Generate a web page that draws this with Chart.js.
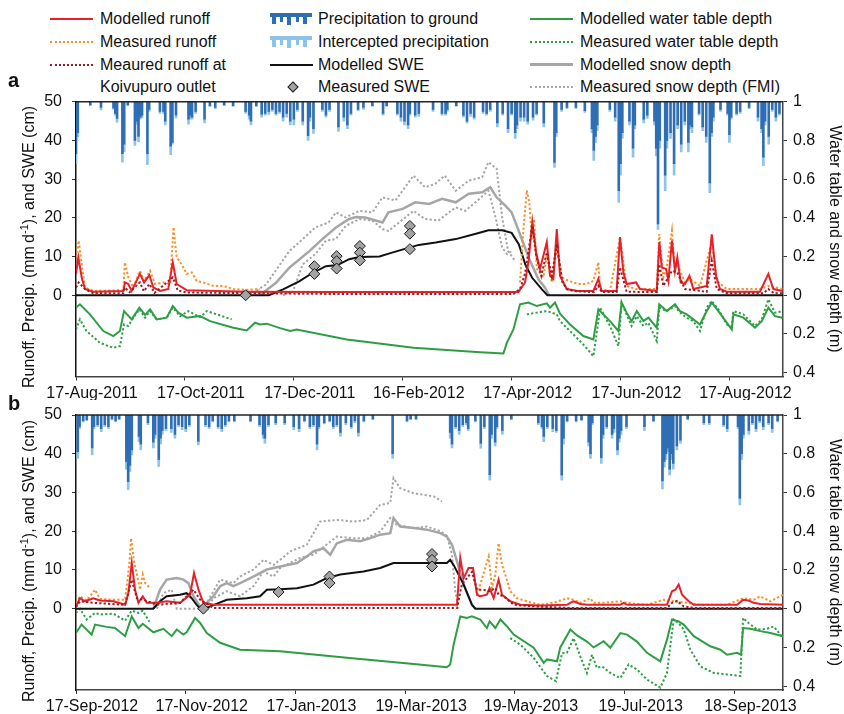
<!DOCTYPE html>
<html lang="en">
<head>
<meta charset="UTF-8">
<title>Runoff, precipitation, SWE, snow and water table</title>
<script src="https://cdn.jsdelivr.net/npm/chart.js"></script>
<style>
  body { margin: 0; background: #fff; font-family: "Liberation Sans", Arial, sans-serif; color: #111; }
  #wrap { position: relative; width: 844px; height: 714px; overflow: hidden; }
  canvas { position: absolute; left: 0; }
  .lg { position: absolute; font-size: 16px; line-height: 18px; white-space: nowrap; }
  .ln { position: absolute; height: 0; width: 43px; }
  .panel { position: absolute; font-weight: bold; font-size: 20px; line-height: 20px; }
  .ytitle { position: absolute; font-size: 16px; white-space: nowrap; transform: translate(-50%, -50%) rotate(-90deg); }
</style>
</head>
<body>
<div id="wrap">
  <!-- legend, col 1 -->
  <div class="ln" style="left:50px;top:18px;border-top:2px solid #e8202a"></div>
  <div class="lg" style="left:100px;top:10px">Modelled runoff</div>
  <div class="ln" style="left:50px;top:41px;border-top:2px dotted #f7902b"></div>
  <div class="lg" style="left:100px;top:33px">Measured runoff</div>
  <div class="ln" style="left:50px;top:64px;border-top:2px dotted #9e1b1f"></div>
  <div class="lg" style="left:100px;top:56px">Meaured runoff at</div>
  <div class="lg" style="left:100px;top:78px">Koivupuro outlet</div>
  <!-- legend, col 2 -->
  <svg style="position:absolute;left:270px;top:12px" width="42" height="14">
    <rect x="0" y="1" width="42" height="4" fill="#2f6eb5"/>
    <rect x="2" y="5" width="4" height="7" fill="#2f6eb5"/><rect x="10" y="5" width="3" height="5" fill="#2f6eb5"/>
    <rect x="17" y="5" width="4" height="8" fill="#2f6eb5"/><rect x="26" y="5" width="3" height="5" fill="#2f6eb5"/>
    <rect x="33" y="5" width="4" height="7" fill="#2f6eb5"/>
  </svg>
  <div class="lg" style="left:318px;top:10px">Precipitation to ground</div>
  <svg style="position:absolute;left:270px;top:35px" width="42" height="14">
    <rect x="0" y="1" width="42" height="4" fill="#8dc3ea"/>
    <rect x="2" y="5" width="4" height="7" fill="#8dc3ea"/><rect x="10" y="5" width="3" height="5" fill="#8dc3ea"/>
    <rect x="17" y="5" width="4" height="8" fill="#8dc3ea"/><rect x="26" y="5" width="3" height="5" fill="#8dc3ea"/>
    <rect x="33" y="5" width="4" height="7" fill="#8dc3ea"/>
  </svg>
  <div class="lg" style="left:318px;top:33px">Intercepted precipitation</div>
  <div class="ln" style="left:270px;top:64px;border-top:2px solid #111"></div>
  <div class="lg" style="left:318px;top:56px">Modelled SWE</div>
  <div style="position:absolute;left:289px;top:83px;width:6px;height:6px;background:#a3a3a3;border:1px solid #222;transform:rotate(45deg)"></div>
  <div class="lg" style="left:318px;top:78px">Measured SWE</div>
  <!-- legend, col 3 -->
  <div class="ln" style="left:530px;top:18px;border-top:2px solid #2e9e44"></div>
  <div class="lg" style="left:580px;top:10px">Modelled water table depth</div>
  <div class="ln" style="left:530px;top:41px;border-top:2px dotted #2e9e44"></div>
  <div class="lg" style="left:580px;top:33px">Measured water table depth</div>
  <div class="ln" style="left:530px;top:63px;border-top:3px solid #a6a6a6"></div>
  <div class="lg" style="left:580px;top:56px">Modelled snow depth</div>
  <div class="ln" style="left:530px;top:86px;border-top:2px dotted #a6a6a6"></div>
  <div class="lg" style="left:580px;top:78px">Measured snow depth (FMI)</div>

  <canvas id="chartA" width="844" height="312" style="top:88px"></canvas>
  <canvas id="chartB" width="844" height="313" style="top:401px"></canvas>

  <div class="panel" style="left:8px;top:70px">a</div>
  <div class="panel" style="left:8px;top:393px">b</div>
  <div class="ytitle" style="left:28px;top:247px">Runoff, Precip. (mm&#8201;d<sup style="font-size:11px">-1</sup>), and SWE (cm)</div>
  <div class="ytitle" style="left:28px;top:561px">Runoff, Precip. (mm&#8201;d<sup style="font-size:11px">-1</sup>), and SWE (cm)</div>
</div>
<script>
// x values are days since the panel start date
const tickDays = [0, 61, 122, 183, 244, 305, 366];
const leftTicks = [0, 10, 20, 30, 40, 50];
const rightTicks = [50, 40, 30, 20, 10, 0, -10, -20];   // 1 .. 0 .. 0.4 m

// ---- panel a (from 17-Aug-2011) ----
// precipitation: [day, to ground (mm/d), intercepted (mm/d)]
const aPrecip = [[0,13.4,2.6],[1,8,1.1],[8,0.8,0.2],[14,1.5,0.6],[21,1.6,0.4],[22,3,0.5],[23,4.3,1],[26,13.4,2.2],[27,11,2],[29,0.8,0.2],
  [33,10,1.3],[34,5,0.8],[35,9,1.4],[36,4,0.5],[37,3.5,0.7],[40,13.4,2.9],[41,2,0.5],[47,2.5,0.5],[49,2.5,0.5],[50,5,1],
  [53,11.5,2.2],[54,10.5,0.5],[56,3.5,0.7],[63,4.5,1.3],[64,3.5,1],[65,4,0.5],[67,2.5,0.5],[72,4.5,1],[75,1,0.3],[78,1.5,0.3],
  [83,0.8,0.2],[88,1,0.2],[95,2.5,0.5],[97,3.5,1],[98,5,1],[101,1,0.3],[104,3.2,0.8],[106,3,0.5],[108,2.5,0.8],[110,2,0.5],
  [112,3,0.5],[114,2.5,0.5],[116,4,1],[118,3,1],[120,5,1],[122,4.5,1.5],[124,2,0.5],[127,5,1],[130,8.8,1.2],[131,4,1],
  [133,7,1.2],[138,2,0.5],[140,3.5,0.5],[142,2,0.5],[147,6.5,1.2],[150,4,1],[152,6,1],[154,3,0.5],[158,2,0.3],[161,1.5,0.5],
  [166,1,0.2],[172,3,0.5],[174,1,0.2],[180,3,0.5],[182,4,1],[184,5,1],[186,6,1],[187,3,0.5],[190,3.5,0.5],[192,3,0.8],
  [200,2,0.5],[205,3,0.5],[207,3,0.5],[208,2,0.5],[213,1,0.2],[217,3.5,0.5],[219,5,0.5],[221,3,0.8],[223,4,0.5],[228,2.5,0.5],
  [230,3,0.5],[232,2,0.5],[236,5.5,1],[239,3,0.5],[242,7,1],[244,3,0.5],[246,8,1.5],[247,6,1],[249,4,1],[251,4,1],
  [253,5,0.8],[256,4,0.8],[258,3,0.5],[262,5.5,1],[268,15.7,1.3],[269,8,1],[272,2,0.5],[275,1.5,0.3],[280,1.5,0.3],[285,2.3,0.5],
  [289,7,1],[290,12.6,2.6],[291,9,1.5],[292,6,1.5],[299,2,0.5],[302,4,1],[304,23,3],[305,16,3],[306,8,1.5],[310,5,1],
  [312,12,2.3],[313,6,1],[318,4.5,1],[320,3.5,0.8],[324,5,1],[325,12,2],[326,31.6,1.4],[327,10,2],[330,19,4],[331,10,2],
  [333,8,1.5],[335,16,3],[337,6,1],[339,11,2],[341,5,1],[343,10.5,2.5],[344,6,1],[345,6.5,1.5],[349,3,0.5],[351,6.5,1],
  [353,9,1.5],[355,21,2.5],[356,8,1],[357,4,1],[361,2,0.5],[365,3,0.5],[366,8.5,2],[367,4,0.5],[370,3,0.5],[372,2.5,0.5],
  [377,1.5,0.3],[382,4,1],[384,7,1],[385,14.3,2.2],[386,5,1],[388,9,2],[390,2,0.5],[392,4,1],[394,3,0.5]];
// runoff (mm/d)
const aRunMod = [[0,5.5],[1.3,9.8],[3.2,4.6],[5,1.6],[9.7,0.9],[26.5,1.1],[27.4,3.3],[29.3,2.9],[31.2,1.1],[35.8,5.5],[38.1,3.3],
  [41.1,5.2],[43.3,2],[47.1,1.1],[51.7,1.6],[54.2,8.5],[56.4,2.9],[62,1.3],[95.6,0.9],[140,0.8],[247.8,0.8],[251.5,3.3],
  [253.4,8.5],[255.6,18.9],[257.7,11.1],[259.9,6.8],[263.7,13.7],[265.5,5],[267.4,4.2],[269.3,17.1],[271.1,5],[274.9,1.6],
  [281,1.1],[289.8,1.1],[292.6,4.2],[294.4,1.1],[302.8,1.1],[304.7,15],[306.6,5.9],[308.4,2.9],[313.7,3.3],[315.9,1.6],
  [325.3,1.1],[326.7,13.7],[328.1,7.2],[330.5,6.8],[331.8,3.7],[333.8,14.1],[335.5,6.3],[336.8,9.8],[338.7,3.3],[341.1,2.9],
  [343.6,5],[345.8,1.6],[353.3,2.4],[356.1,15.7],[358.5,5],[360.7,1.6],[364.5,0.9],[383.1,0.9],[387.8,5.5],[390.6,1.6],[395.8,1.1]];
const aRunMeas = [[0,9.8],[1.5,14.1],[3.2,8],[5,2],[9.7,1.1],[26.5,1.3],[27.4,8.5],[29.3,4.6],[32.1,2],[35.8,6.3],[38.1,3.7],
  [41.5,6.3],[44.3,2.9],[49,3.3],[52.7,2.9],[54.6,17.6],[56.4,9.8],[59.2,8],[62,5.5],[64.8,5.9],[67.6,3.7],[71.3,3.3],
  [76.9,2.4],[82.5,2.4],[88.1,1.6],[95.6,1.4],[103,1.6],[150,null],[248.7,3.3],[250.6,17.1],[252.5,27.1],[253.9,24],
  [255.3,14.5],[256.6,19.7],[258.1,6.8],[261.8,4.6],[263.7,10.2],[266.5,3.3],[269.3,11.9],[272.1,4.6],[275.8,3.7],[278.6,3.3],
  [282.3,2.9],[286,2.9],[289.8,3.7],[292.6,8.5],[293.5,1.6],[299.1,1.1],[304.7,15],[308.4,2.4],[313.7,1.6],[325.3,1.6],
  [326.7,15.8],[329,4.6],[330.9,7.2],[333.8,16.7],[335.5,6.3],[336.8,8],[341.1,3.3],[343.9,4.2],[349.5,2.4],[356.1,13.7],
  [358.9,3.7],[364.5,1.6],[383.1,1.6],[387.8,2.4],[395.8,1.6]];
const aRunOutlet = [[0,2],[1.5,3.3],[5,1.6],[9.7,0.5],[26.5,0.5],[27.4,2],[30,0.8],[35.8,3.3],[38,1],[41.1,2.9],[44,0.6],
  [54.2,4.6],[57,1.2],[62,0.7],[100,0.5],[150,0.3],[245,0.3],[248.7,1.6],[251.5,5.6],[255.6,18],[257.7,10.2],[260.6,5],
  [263.7,11.1],[266.5,5],[269.3,13.2],[272.5,3.3],[274.9,1.6],[278.6,1.1],[290,0.8],[292.6,2.4],[294.4,0.8],[302.8,0.8],
  [304.7,7.2],[308.4,0.9],[325.3,0.8],[326.7,8],[329,2.4],[333.8,6.3],[336.8,5.9],[341.1,1.6],[353.3,0.9],[356.1,8.9],
  [358.9,1.6],[364.5,0.5],[385,0.5],[387.8,1.6],[391,0.5],[395.8,0.5]];
// SWE (cm)
const aSweMod = [[0,0],[108,0],[116,1.5],[125,3.6],[132.6,5.8],[140,7.5],[146.5,7.8],[153,9.3],[158.7,9.9],[170,10],[177,11],
  [186.6,12.3],[192,13],[201.5,13.6],[212.7,14.5],[224,15.9],[231,16.8],[238.7,16.8],[244,16.1],[248,13.2],[251.8,7.8],
  [255.5,4.5],[261,1.5],[264,0],[396,0]];
const aSweMeas = [[95,0],[133.5,7.5],[133.5,5.5],[146,10.1],[146,8.8],[146,6.9],[159,12.7],[159,11],[159,9],[187,17.9],[187,15.9],[187,11.9]];
// snow depth (m)
const aSnowMod = [[103,0],[112,0.064],[119.5,0.142],[130.7,0.228],[138,0.29],[145.6,0.35],[153,0.394],[156.8,0.404],[162,0.402],
  [171.7,0.376],[175,0.428],[183,0.446],[190,0.48],[197.8,0.472],[205,0.498],[212.7,0.48],[220,0.524],[227.5,0.532],[232,0.558],
  [235.6,0.506],[240.6,0.462],[244,0.428],[248,0.332],[253.6,0.194],[259,0.082],[262.6,0.04],[265,0]];
const aSnowFmi1 = [[97,0],[106.5,0.056],[119.5,0.228],[127,0.29],[134,0.35],[141.5,0.376],[145.6,0.428],[151,0.402],[158.7,0.436],
  [166,0.428],[171.7,0.506],[179,0.49],[189,0.618],[195.5,0.558],[201,0.574],[206.5,0.618],[212.7,0.54],[220,0.592],[227.5,0.61],
  [231,0.688],[235.6,0.654],[238.7,0.402],[242,0.228],[246,0.176]];
const aSnowFmi2 = [[116,0],[121.5,0.02],[127,0.16],[134,0.212],[140,0.282],[145.6,0.29],[151,0.358],[158.7,0.394],[166,0.386],
  [171.7,0.342],[175,0.332],[181,0.376],[189,0.436],[195.5,0.394],[203,0.386],[212.7,0.454],[218,0.436],[225,0.49],[231,0.54],
  [235,0.402],[238.7,0.246],[241.5,0.212],[244,0.228]];
// water table depth (m)
const aWtMod = [[0,0.064],[2.2,0.047],[7.8,0.099],[15.3,0.185],[20.9,0.211],[24.6,0.185],[26.9,0.082],[31.2,0.125],[35.5,0.064],
  [38.7,0.102],[41.5,0.073],[45.2,0.125],[50.8,0.116],[54.2,0.056],[57.3,0.09],[62,0.116],[69.5,0.108],[75.1,0.134],[88.1,0.168],
  [95.6,0.182],[100.3,0.142],[103.1,0.151],[106.8,0.147],[114.3,0.17],[119.9,0.185],[123.6,0.177],[151.7,0.229],[189,0.272],
  [226.3,0.295],[239.4,0.301],[241.3,0.246],[245,0.177],[248.7,0.047],[253.4,0.038],[258.1,0.056],[263.7,0.042],[265.5,0.064],
  [268.3,0.038],[271.1,0.095],[276.7,0.151],[284.2,0.211],[289.8,0.229],[292.6,0.073],[299.1,0.134],[303.8,0.185],[305.6,0.038],
  [308.4,0.09],[311.2,0.134],[314.1,0.082],[317.8,0.134],[320.6,0.116],[325.3,0.168],[326.7,0.047],[330.9,0.082],[335.5,0.047],
  [338.3,0.082],[342.1,0.099],[345.8,0.125],[349.5,0.151],[353.3,0.082],[356.1,0.038],[359.8,0.082],[364.5,0.142],[367.3,0.177],
  [368.2,0.099],[373.8,0.116],[380.3,0.168],[384.1,0.134],[387.8,0.064],[391.5,0.108],[395.8,0.116]];
const aWtMeas = [[0,0.177],[2.2,0.125],[5.9,0.185],[13.4,0.246],[20.9,0.272],[24.6,0.263],[26.9,0.151],[29.3,0.159],[32.1,0.116],
  [35.5,0.073],[38.7,0.116],[41.5,0.082],[45.2,0.125],[50.8,0.116],[54.2,0.064],[58.3,0.108],[63,0.082],[69.5,0.113],[73.3,0.082],
  [78.9,0.099],[87.2,0.125],[150,null],[252.5,0.099],[258.1,0.09],[263.7,0.082],[269.3,0.099],[271.1,0.134],[276.7,0.185],
  [284.2,0.255],[289.8,0.315],[292.6,0.134],[293.5,0.064],[299.1,0.159],[303.8,0.263],[305.6,0.038],[308.4,0.099],[311.2,0.159],
  [314.1,0.108],[317.8,0.159],[320.6,0.142],[325.3,0.237],[326.7,0.064],[330.9,0.082],[335.5,0.056],[338.3,0.09],[342.1,0.116],
  [345.8,0.134],[349.5,0.185],[353.3,0.064],[356.1,0.03],[359.8,0.073],[364.5,0.151],[367.3,0.159],[368.2,0.082],[373.8,0.099],
  [380.3,0.159],[384.1,0.125],[387.8,0.021],[391.5,0.09],[395.8,0.082]];

// ---- panel b (from 17-Sep-2012) ----
const bPrecip = [[1,9.5,1.7],[2,3,0.5],[4,1.5,0.3],[6,1.2,0.3],[9,8.5,1.8],[10,3,0.5],[12,2.5,0.5],[14,3.5,0.8],[16,2.5,0.5],[18,3,0.5],
  [20,1,0.3],[22,1.5,0.3],[24,1,0.2],[28,12,2],[29,17.2,2.1],[30,13,1.6],[31,9,1.3],[35,5.5,1.4],[36,7.5,1.5],[40,2,0.5],
  [43,7,1.5],[44,5,1],[46,11.5,1.8],[47,6,1.5],[48,4,1],[50,3.5,0.5],[53,3.5,1],[55,5,1],[57,2.5,0.5],[59,3,0.8],
  [61,3.5,0.8],[63,2.5,0.5],[68,6.8,0.9],[72,2.5,0.5],[74,3,0.5],[76,1.5,0.3],[79,3,0.5],[81,3.5,0.8],[83,2.5,0.5],[85,1.5,0.3],
  [88,1.5,0.3],[97,1.5,0.3],[102,2.5,0.5],[104,5,1],[105,6,1.3],[107,2.5,0.5],[111,2,0.5],[116,2,0.5],[121,3,0.8],[124,3.5,0.8],
  [127,1.5,0.3],[130,3,0.5],[132,2.5,0.5],[134,7.5,1.5],[135,3,0.5],[138,2,0.3],[141,1.5,0.3],[143,3,0.5],[145,2.5,0.5],[147,4.5,1],
  [150,2,0.5],[153,3,0.5],[155,1.5,0.5],[157,4.5,1],[160,1.5,0.3],[165,1,0.2],[176,10,1.2],[184,1.5,0.3],[186,1,0.2],[189,1,0.2],
  [208,4.5,1.5],[209,7.5,1],[211,3,0.5],[213,4,1],[215,2.5,0.5],[217,2,0.5],[218,3.5,0.5],[222,1.5,0.3],[225,7.3,1.3],[227,3,0.5],
  [230,15.4,1.4],[231,5,1],[233,7,1],[234,3,0.5],[237,4,1],[242,1,0.2],[257,2,0.5],[259,3,0.5],[260,5.5,1.4],[262,3,0.5],
  [265,3.5,0.8],[267,4,0.5],[270,15.5,1.3],[271,6,1.5],[273,1.5,0.3],[278,1.5,0.3],[281,1.2,0.3],[285,7,1],[286,10,1.2],[287,2,0.5],
  [292,11,1.5],[293,5,1],[295,3,0.5],[298,5,1],[299,3.5,1],[301,9,1.3],[302,6,1],[303,4,1],[306,3,0.5],[316,3,1],
  [321,1.5,0.3],[326,17,2.1],[327,12,1.5],[328,10,1.5],[329,8.5,1],[330,14,1.5],[331,10,1.5],[332,12.5,1.5],[334,8,1],[336,6.5,0.8],
  [340,1,0.2],[349,2,0.5],[352,2,0.5],[360,2.5,0.5],[362,3.5,0.8],[368,3,0.5],[369,21.5,1.7],[370,10,1.5],[371,5,1],[374,4,1],
  [376,2,0.5],[378,3.5,0.8],[380,1.5,0.5],[382,3,0.8],[385,2,0.5],[387,3.5,1],[390,1.5,0.3]];
const bRunMod = [[0,0.6],[2.2,2.7],[5,1.9],[9.6,2.7],[13.3,2.1],[20.8,1.9],[27.3,1],[29.1,4],[31,11.8],[32.8,4.9],[34.7,1.5],
  [37.1,3.2],[39.3,1.5],[44.9,1.5],[50.4,1.9],[57.8,1.5],[63.4,3.6],[65.6,9.2],[68.1,4.9],[70.8,1.5],[76.4,1],[150,1],[211.8,1],
  [213.6,13.1],[215.5,7.9],[218.2,10.5],[220.7,10.5],[222.9,3.6],[224.7,3.2],[228.4,3.6],[229.9,5.3],[232.2,2.7],[234.9,7.5],
  [236.8,3.6],[241.4,1.9],[247,1],[258.1,0.8],[272.9,1],[274.8,1.5],[276.6,1.9],[280.3,1.2],[284,1],[302.6,1],[304.4,1.5],
  [306.3,1],[328.5,1],[331.3,4.5],[333.2,4.9],[335,6.2],[336.9,3.6],[340.6,1.9],[343.4,1],[367.5,1],[370.8,2.3],[373.9,2.1],
  [376.7,1.5],[380.4,1.2],[393,1]];
const bRunMeas = [[0,1.5],[2.2,3.2],[5.9,2.1],[10.6,4.9],[13.3,2.5],[20.8,2.3],[27.3,2.3],[29.7,11.8],[30.6,18.2],[32.4,11.8],
  [34.1,8.3],[35.6,4.9],[37.1,8.8],[38.4,6.6],[40.8,5.5],[100,null],[222.9,3.6],[224.7,6.2],[229.4,13.5],[231.2,5.3],[233.1,8.8],
  [234.9,16.9],[236.8,11.3],[238.6,8.8],[241.4,4.5],[245.1,2.7],[250.7,1.9],[258.1,1],[265.5,1.5],[272.9,2.7],[276.6,2.3],
  [280.3,1.5],[285.9,2.7],[287.7,1.5],[293.3,1.5],[302.6,1.9],[306.3,1.5],[317.4,1],[326.7,2.3],[332.2,1.9],[339.6,1.5],
  [347.1,1],[361.9,1],[370.8,2.7],[376.7,2.3],[380.4,3.2],[386,1.9],[393,3.6]];
const bRunOutlet = [[0,0.4],[2.2,1.9],[9.6,1.5],[27.3,1],[31,7.5],[33.8,2.7],[37.5,2.3],[44.9,1],[57.8,1.5],[65.3,4.9],[69,2.3],
  [76.4,0.2],[211.8,0.2],[214.5,6.2],[217.3,7.9],[220.1,9.5],[222.9,4.9],[226.6,4.9],[229.9,4.5],[233.1,5.3],[234.9,3.6],
  [237.7,3.2],[243.3,1],[254.4,0.6],[272.9,0.2],[328.5,0.2],[331.3,1.5],[334.1,2],[337.8,0.6],[343.4,0.2],[393,0.2]];
const bSweMod = [[0,0],[43,0],[46.7,1.9],[50.4,3.2],[57.8,3.6],[61.5,4],[64.3,2.7],[67.1,1],[69,0],[72.7,0.2],[76.4,0.9],
  [83.8,2.3],[94.9,2.7],[102.3,3.2],[106.1,4.9],[113.5,5],[122.8,5.3],[132,6.2],[139.5,7.9],[146.9,8.8],[159.8,9.6],[169.1,10.5],
  [176.5,11.8],[191.4,11.8],[206.2,11.8],[208,12.6],[209.9,11.3],[215.5,6.2],[220.1,1],[222,0],[393,0]];
const bSweMeas = [[70.8,0],[112.6,4.3],[140.9,8.3],[140.9,6.6],[197.9,14.1],[197.9,12.6],[197.9,10.9]];
const bSnowMod = [[43,0],[46.7,0.098],[50.4,0.15],[56,0.158],[59.7,0.15],[62.5,0.132],[65.3,0.064],[69,0.012],[72.7,0.03],
  [76.4,0.064],[80.1,0.116],[83.8,0.132],[87.5,0.116],[91.2,0.132],[98.6,0.166],[106.1,0.202],[113.5,0.218],[122.8,0.236],
  [128.3,0.27],[132,0.296],[137.6,0.312],[141.3,0.278],[145,0.338],[150.6,0.356],[158,0.348],[163.6,0.364],[169.1,0.382],
  [174.7,0.39],[176.5,0.468],[180.2,0.424],[187.7,0.416],[195.1,0.408],[202.5,0.39],[206.2,0.372],[209,0.33],[211.8,0.244],
  [215.5,0.124],[220.1,0.02],[222,0]];
const bSnowFmi1 = [[44.9,0],[48.6,0.08],[53.2,0.098],[56,0],[69,0],[72.7,0.03],[80.1,0.15],[87.5,0.132],[91.2,0.166],[98.6,0.202],
  [104.2,0.252],[109.8,0.226],[113.5,0.252],[119,0.296],[128.3,0.33],[135.7,0.45],[145,0.458],[154.3,0.45],[161.7,0.458],
  [169.1,0.536],[174.7,0.546],[176.5,0.674],[180.2,0.622],[187.7,0.596],[193.2,0.588],[198.8,0.58],[203.4,0.554]];
const bSnowFmi2 = [[72.7,0],[76.4,0.054],[83.8,0.09],[91.2,0.064],[98.6,0.116],[104.2,0.192],[109.8,0.166],[113.5,0.21],
  [124.6,0.262],[132,0.278],[145,0.372],[154.3,0.364],[161.7,0.364],[169.1,0.398],[174.7,0.468],[178.4,0.432],[187.7,0.416],
  [195.1,0.424],[202.5,0.4],[206.2,0.376],[209,0.28],[210.8,0.09],[212.7,0]];
const bWtMod = [[0,0.126],[3.1,0.082],[8.7,0.134],[10.6,0.082],[17,0.094],[21.7,0.1],[27.3,0.142],[31,0.04],[34.7,0.1],[37.1,0.078],
  [43,0.122],[48.6,0.104],[53.2,0.142],[56,0.108],[59.7,0.134],[61.5,0.122],[66.2,0.048],[69,0.074],[72.7,0.126],[80.1,0.176],
  [91.2,0.212],[113.5,0.22],[150.6,0.254],[187.7,0.286],[206.2,0.302],[208,0.288],[209.9,0.186],[213.6,0.04],[217.3,0.048],
  [220.1,0.04],[224.7,0.056],[228.4,0.1],[229.9,0.066],[233.1,0.1],[235.9,0.056],[239.6,0.092],[243.3,0.134],[254.4,0.202],
  [260,0.28],[261.8,0.262],[267.4,0.272],[269.2,0.2],[274.8,0.108],[278.5,0.138],[284,0.17],[287.7,0.2],[289.6,0.19],[293.3,0.168],
  [297,0.202],[302.6,0.126],[306.3,0.134],[311.8,0.17],[317.4,0.228],[324.8,0.272],[328.5,0.16],[331.3,0.056],[335,0.066],
  [337.8,0.082],[343.4,0.142],[352.6,0.194],[358.2,0.212],[361.9,0.238],[367.5,0.228],[369.7,0.238],[370.8,0.1],[374.9,0.104],
  [380.4,0.116],[386,0.126],[393,0.142]];
const bWtMeas = [[0,0.022],[2.2,0],[5.9,0.056],[10.6,0.022],[13.3,0.03],[20.8,0.026],[27.3,0.062],[31,0.01],[34.7,0.022],[37.1,0.01],
  [40.8,0.068],[100,null],[241.4,0.152],[247,0.186],[254.4,0.254],[261.8,0.348],[266.8,0.374],[268.5,0.3],[270.2,0.23],[272.9,0.228],
  [276.6,0.152],[280.3,0.246],[284,0.332],[286.8,0.238],[289.6,0.306],[292.4,0.298],[297,0.332],[302.6,0.358],[307.2,0.288],
  [311.8,0.314],[317.4,0.366],[324.8,0.408],[328.5,0.332],[332.2,0.056],[335,0.074],[337.8,0.108],[341.5,0.212],[347.1,0.298],
  [354.5,0.332],[361.9,0.34],[369.3,0.348],[370.8,0.048],[373.9,0.074],[378.6,0.108],[384.1,0.104],[387.9,0.092],[393,0.152]];

const TOP = 50;         // precipitation hangs from the top of the left axis
const M = 50;           // 1 m on the right axis = 50 units on the left axis
const MONTHS = ['Jan','Feb','Mar','Apr','May','Jun','Jul','Aug','Sep','Oct','Nov','Dec'];
const FONT = { family: '"Liberation Sans", Arial, sans-serif', size: 16 };

function fmtDate(start, d) {
  const t = new Date(start + 'T00:00:00Z');
  t.setUTCDate(t.getUTCDate() + d);
  return t.getUTCDate() + '-' + MONTHS[t.getUTCMonth()] + '-' + t.getUTCFullYear();
}
function xy(rows, f) {
  return rows.map(r => ({ x: r[0], y: r[1] == null ? null : f(r[1]) }));
}
const same = v => v, snow = v => v * M, wt = v => -v * M;

function line(data, color, width, dotted, order) {
  return { type: 'line', data, borderColor: color, borderWidth: width, borderDash: dotted ? [2.2, 2.2] : [],
    pointRadius: 0, fill: false, tension: 0, spanGaps: false, order };
}

const topLine = {
  id: 'topLine',
  afterDraw(chart) {
    const a = chart.chartArea, c = chart.ctx;
    c.save();
    c.strokeStyle = '#222'; c.lineWidth = 1.5;
    c.beginPath(); c.moveTo(a.left, a.top); c.lineTo(a.right, a.top); c.stroke();
    c.restore();
  }
};

// fixed axis sizes so both panels line up with the picture
function fixWidth(w) {
  return s => { s.width = w; s.paddingTop = 0; s.paddingBottom = 0; };
}

function makePanel(id, p) {
  const datasets = [
    { type: 'bar', data: p.precip.map(r => ({ x: r[0], y: [TOP, TOP - r[1]] })), backgroundColor: '#2f6eb5',
      barThickness: 2, grouped: false, borderWidth: 0, order: 20 },
    { type: 'bar', data: p.precip.map(r => ({ x: r[0], y: [TOP - r[1], TOP - r[1] - r[2]] })), backgroundColor: '#8dc3ea',
      barThickness: 2, grouped: false, borderWidth: 0, order: 21 },
    line(xy(p.snowFmi1, snow), '#a6a6a6', 2, true, 12),
    line(xy(p.snowFmi2, snow), '#a6a6a6', 2, true, 12),
    line(xy(p.snowMod, snow), '#a6a6a6', 2.5, false, 11),
    line(xy(p.wtMeas, wt), '#2e9e44', 2, true, 9),
    line(xy(p.wtMod, wt), '#2e9e44', 2, false, 8),
    line(xy(p.sweMod, same), '#111', 2, false, 6),
    line(xy(p.runMeas, same), '#f7902b', 2, true, 5),
    line(xy(p.runOutlet, same), '#9e1b1f', 2, true, 3),
    line(xy(p.runMod, same), '#e8202a', 2, false, 4),
    { type: 'line', data: xy(p.sweMeas, same), showLine: false, pointStyle: 'rectRot', pointRadius: 5.5,
      pointBackgroundColor: '#a3a3a3', pointBorderColor: '#1a1a1a', pointBorderWidth: 1, order: 0 }
  ];
  const axisGrid = { display: true, drawOnChartArea: false, drawTicks: true, tickLength: 4, color: '#333', offset: false };
  return new Chart(document.getElementById(id), {
    type: 'bar',
    data: { datasets },
    options: {
      responsive: false, animation: false, events: [],
      layout: { padding: { top: p.padTop, left: 0, right: 0, bottom: 0 } },
      plugins: { legend: { display: false }, tooltip: { enabled: false } },
      scales: {
        x: {
          type: 'linear', min: 0, max: p.maxDay, offset: false,
          grid: axisGrid, border: { display: true, color: '#444', width: 1.5 },
          ticks: { font: FONT, color: '#111', padding: 3, labelOffset: 16, maxRotation: 0, autoSkip: false,
            callback: v => fmtDate(p.start, v) },
          afterBuildTicks: s => { s.ticks = tickDays.map(v => ({ value: v })); },
          afterFit: s => { s.height = p.xH; }
        },
        y: {
          position: 'left', min: -21, max: 50,
          grid: axisGrid, border: { display: true, color: '#111', width: 1.5 },
          ticks: { font: FONT, color: '#111', padding: 10 },
          afterBuildTicks: s => { s.ticks = leftTicks.map(v => ({ value: v })); },
          afterFit: fixWidth(76)
        },
        y2: {
          position: 'right', min: -21, max: 50,
          grid: axisGrid, border: { display: true, color: '#444', width: 1.5 },
          ticks: { font: FONT, color: '#111', padding: 6, callback: v => String(Math.abs(v) / M) },
          title: { display: true, text: 'Water table and snow depth (m)', font: FONT, color: '#111', padding: { top: 0, bottom: 1 } },
          afterBuildTicks: s => { s.ticks = rightTicks.map(v => ({ value: v })); },
          afterFit: fixWidth(61)
        }
      }
    },
    plugins: [topLine]
  });
}

makePanel('chartA', { start: '2011-08-17', maxDay: 396, padTop: 13.7, xH: 23.5,
  precip: aPrecip, runMod: aRunMod, runMeas: aRunMeas, runOutlet: aRunOutlet, sweMod: aSweMod, sweMeas: aSweMeas,
  snowMod: aSnowMod, snowFmi1: aSnowFmi1, snowFmi2: aSnowFmi2, wtMod: aWtMod, wtMeas: aWtMeas });
makePanel('chartB', { start: '2012-09-17', maxDay: 393, padTop: 14, xH: 24,
  precip: bPrecip, runMod: bRunMod, runMeas: bRunMeas, runOutlet: bRunOutlet, sweMod: bSweMod, sweMeas: bSweMeas,
  snowMod: bSnowMod, snowFmi1: bSnowFmi1, snowFmi2: bSnowFmi2, wtMod: bWtMod, wtMeas: bWtMeas });
</script>
</body>
</html>
